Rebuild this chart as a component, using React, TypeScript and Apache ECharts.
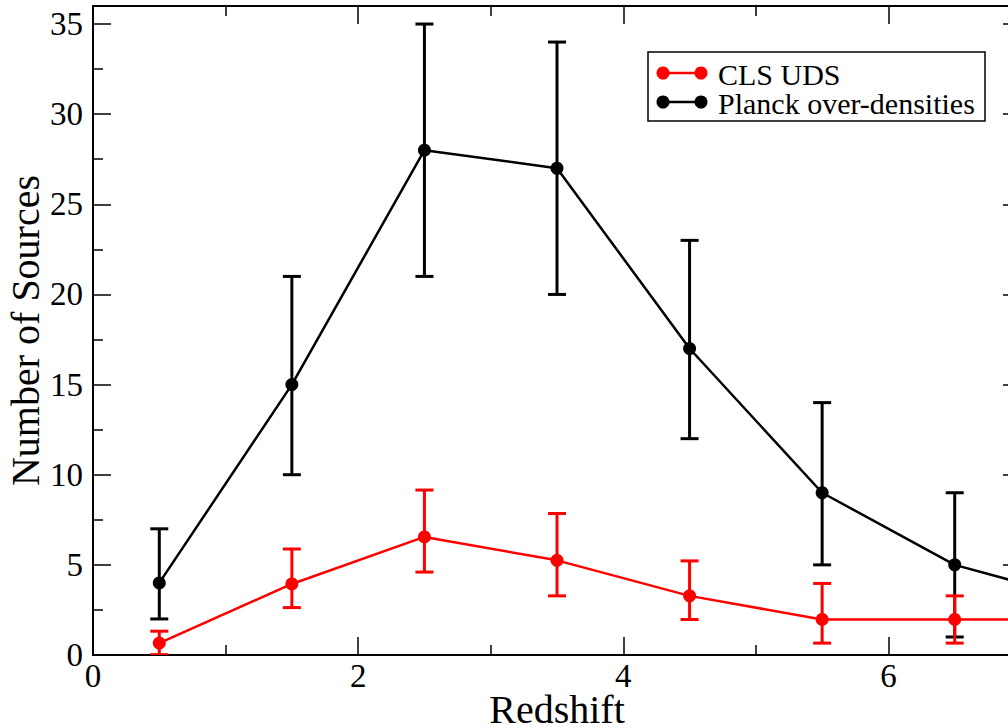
import React, { useEffect, useRef } from "react";
import * as echarts from "echarts";

const redshift = [0.5, 1.5, 2.5, 3.5, 4.5, 5.5, 6.5, 7.5];
const clsValues = [0.66, 3.94, 6.55, 5.25, 3.28, 1.97, 1.97, 1.97];
const clsLow = [0.02, 2.63, 4.6, 3.28, 1.97, 0.66, 0.66, 0.66];
const clsHigh = [1.32, 5.88, 9.15, 7.85, 5.22, 3.97, 3.28, 3.28];
const planckValues = [4, 15, 28, 27, 17, 9, 5, 3];
const planckLow = [2, 10, 21, 20, 12, 5, 1, 1];
const planckHigh = [7, 21, 35, 34, 23, 14, 9, 6];

const xMajor = [0, 2, 4, 6];
const xMinor = [1, 3, 5];
const yMajor = [0, 5, 10, 15, 20, 25, 30, 35];
const yMinor = [2.5, 7.5, 12.5, 17.5, 22.5, 27.5, 32.5];

const FONT = "'Liberation Serif', 'Times New Roman', serif";

function axisDef(dim: "x" | "y", position: string, ticks: number[], len: number, label: boolean, line: boolean, extra: any = {}) {
  return {
    type: "value",
    position,
    min: 0,
    max: dim === "x" ? 7 : 36,
    axisLine: { show: line, onZero: false, lineStyle: { color: "#000", width: 2 } },
    axisTick: { show: true, inside: true, length: len, customValues: ticks, lineStyle: { color: "#000", width: 1.5 } },
    axisLabel: {
      show: label,
      customValues: ticks,
      color: "#000",
      fontFamily: FONT,
      fontSize: 33,
      lineHeight: 30,
      margin: dim === "x" ? 6 : 10,
    },
    splitLine: { show: false },
    ...extra,
  };
}

function errorSeries(color: string, lo: number[], hi: number[]) {
  return {
    type: "custom",
    xAxisIndex: 0,
    yAxisIndex: 0,
    clip: true,
    data: redshift.map((x, i) => [x, lo[i], hi[i]]),
    renderItem: (params: any, api: any) => {
      const x = api.value(0);
      const p1 = api.coord([x, api.value(1)]);
      const p2 = api.coord([x, api.value(2)]);
      const w = 9;
      const style = { stroke: color, lineWidth: 3 };
      return {
        type: "group",
        children: [
          { type: "line", shape: { x1: p1[0], y1: p1[1], x2: p2[0], y2: p2[1] }, style },
          { type: "line", shape: { x1: p1[0] - w, y1: p1[1], x2: p1[0] + w, y2: p1[1] }, style },
          { type: "line", shape: { x1: p2[0] - w, y1: p2[1], x2: p2[0] + w, y2: p2[1] }, style },
        ],
      };
    },
  };
}

function lineSeries(name: string, color: string, vals: number[]) {
  return {
    name,
    type: "line",
    xAxisIndex: 0,
    yAxisIndex: 0,
    data: redshift.map((x, i) => [x, vals[i]]),
    symbol: "circle",
    symbolSize: 13,
    lineStyle: { color, width: 2.5 },
    itemStyle: { color },
    clip: true,
  };
}

export default function App() {
  const ref = useRef<HTMLDivElement>(null);
  useEffect(() => {
    document.body.style.margin = "0";
    if (!ref.current) return;
    const chart = echarts.init(ref.current, undefined, { renderer: "svg" });
    const legendItem = (y: number, color: string, text: string) => [
      { type: "line", shape: { x1: 663, y1: y, x2: 701, y2: y }, style: { stroke: color, lineWidth: 2.5 } },
      { type: "circle", shape: { cx: 663, cy: y, r: 6.5 }, style: { fill: color } },
      { type: "circle", shape: { cx: 701, cy: y, r: 6.5 }, style: { fill: color } },
      {
        type: "text",
        x: 718,
        y: y + 1,
        style: { text, fill: "#000", fontSize: 30, fontFamily: FONT, lineHeight: 24, verticalAlign: "middle", align: "left" },
      },
    ];
    chart.setOption({
      animation: false,
      backgroundColor: "#fff",
      grid: { left: 93, top: 6, right: 19, bottom: 72, outerBoundsMode: "none", containLabel: false },
      xAxis: [
        axisDef("x", "bottom", xMajor, 18, true, true, {
          name: "Redshift",
          nameLocation: "middle",
          nameGap: 38,
          nameMoveOverlap: false,
          nameTextStyle: { color: "#000", fontFamily: FONT, fontSize: 40, lineHeight: 32 },
        }),
        axisDef("x", "bottom", xMinor, 10, false, false),
        axisDef("x", "top", xMajor, 18, false, true),
        axisDef("x", "top", xMinor, 10, false, false),
      ],
      yAxis: [
        axisDef("y", "left", yMajor, 18, true, true, {
          name: "Number of Sources",
          nameLocation: "middle",
          nameGap: 50,
          nameMoveOverlap: false,
          nameTextStyle: { color: "#000", fontFamily: FONT, fontSize: 40, lineHeight: 36 },
        }),
        axisDef("y", "left", yMinor, 10, false, false),
        axisDef("y", "right", yMajor, 18, false, true),
        axisDef("y", "right", yMinor, 10, false, false),
      ],
      series: [
        errorSeries("#000", planckLow, planckHigh),
        lineSeries("Planck over-densities", "#000", planckValues),
        errorSeries("#ff0000", clsLow, clsHigh),
        lineSeries("CLS UDS", "#ff0000", clsValues),
      ],
      graphic: [
        {
          type: "group",
          children: [
            { type: "rect", shape: { x: 648, y: 52, width: 337, height: 69 }, style: { fill: "#fff", stroke: "#000", lineWidth: 1.5 } },
            ...legendItem(73, "#ff0000", "CLS UDS"),
            ...legendItem(102, "#000", "Planck over-densities"),
          ],
        },
      ],
    });
    return () => chart.dispose();
  }, []);
  return (
    <div style={{ width: 1008, height: 727, overflow: "hidden", position: "relative" }}>
      <div ref={ref} style={{ width: 1040, height: 727 }} />
    </div>
  );
}
